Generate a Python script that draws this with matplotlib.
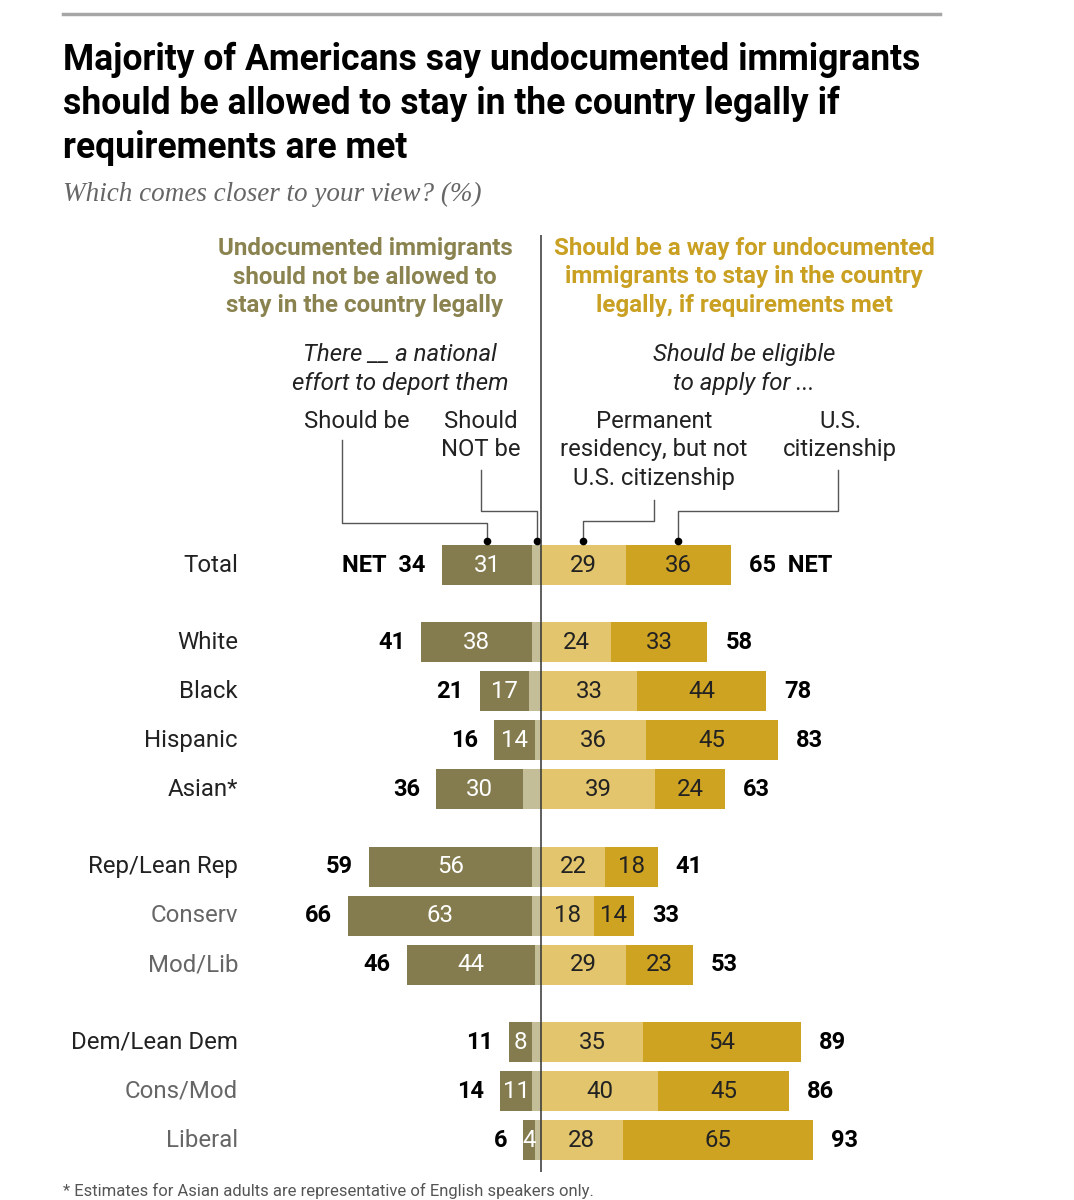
import matplotlib
matplotlib.use("Agg")
import matplotlib.pyplot as plt
import numpy as np

# survey data (%)
groups = ["Total", "White", "Black", "Hispanic", "Asian*",
          "Rep/Lean Rep", "Conserv", "Mod/Lib",
          "Dem/Lean Dem", "Cons/Mod", "Liberal"]
sub_rows = ["Conserv", "Mod/Lib", "Cons/Mod", "Liberal"]
group_breaks = [1, 5, 8]  # rows where a new block begins

deport_should = [31, 38, 17, 14, 30, 56, 63, 44, 8, 11, 4]
net_not_allowed = [34, 41, 21, 16, 36, 59, 66, 46, 11, 14, 6]
permanent_res = [29, 24, 33, 36, 39, 22, 18, 29, 35, 40, 28]
citizenship = [36, 33, 44, 45, 24, 18, 14, 23, 54, 45, 65]
net_allowed = [65, 58, 78, 83, 63, 41, 33, 53, 89, 86, 93]

W, H = 1074, 1200
CX, SCALE = 541, 2.92    # centre line (px) and px per percentage point
Y0, ROW = 565, 49        # first row centre (px) and row pitch (px)
GAP = 0.58               # extra space between blocks, in rows

C_DARK_OLIVE = "#847c4e"
C_LIGHT_OLIVE = "#c3bd98"
C_LIGHT_GOLD = "#e2c56c"
C_GOLD = "#cfa322"
C_HEAD_LEFT = "#8a8350"
C_HEAD_RIGHT = "#c9a021"

BODY = ["Roboto", "DejaVu Sans"]


def dx(px):
    return (px - CX) / SCALE


def dy(py):
    return (py - Y0) / ROW


not_be = np.array(net_not_allowed) - np.array(deport_should)
ypos = np.arange(len(groups), dtype=float)
for b in group_breaks:
    ypos[b:] += GAP

fig = plt.figure(figsize=(W / 100, H / 100), dpi=100)
ax = fig.add_axes([0, 0, 1, 1])
ax.set_xlim(dx(0), dx(W))
ax.set_ylim(dy(H), dy(0))
ax.axis("off")

bh = 40 / ROW
ax.barh(ypos, -not_be, height=bh, color=C_LIGHT_OLIVE)
ax.barh(ypos, -np.array(deport_should), left=-not_be, height=bh, color=C_DARK_OLIVE)
ax.barh(ypos, permanent_res, height=bh, color=C_LIGHT_GOLD)
ax.barh(ypos, citizenship, left=permanent_res, height=bh, color=C_GOLD)

ax.vlines(0, dy(235), dy(1172), color="#333333", lw=1.1, zorder=5)

for i, g in enumerate(groups):
    y = ypos[i]
    col = "#666666" if g in sub_rows else "#222222"
    ax.text(dx(238), y, g, ha="right", va="center", fontsize=17.3,
            color=col, family=BODY)
    ax.text(-(not_be[i] + deport_should[i] / 2), y, str(deport_should[i]),
            ha="center", va="center", fontsize=17.3, color="white", family=BODY)
    ax.text(permanent_res[i] / 2, y, str(permanent_res[i]),
            ha="center", va="center", fontsize=17.3, color="#222222", family=BODY)
    ax.text(permanent_res[i] + citizenship[i] / 2, y, str(citizenship[i]),
            ha="center", va="center", fontsize=17.3, color="#222222", family=BODY)
    left_lab = str(net_not_allowed[i])
    right_lab = str(net_allowed[i])
    if i == 0:
        left_lab = "NET  " + left_lab
        right_lab = right_lab + "  NET"
    ax.text(-net_not_allowed[i] - 16 / SCALE, y, left_lab, ha="right",
            va="center", fontsize=17, fontweight="bold", color="black",
            family=BODY)
    ax.text(permanent_res[i] + citizenship[i] + 18 / SCALE, y, right_lab,
            ha="left", va="center", fontsize=17, fontweight="bold",
            color="black", family=BODY)

# top rule, title, subtitle
ax.plot([dx(63), dx(940)], [dy(14), dy(14)], color="#a6a6a6", lw=2.5)
title = ("Majority of Americans say undocumented immigrants\n"
         "should be allowed to stay in the country legally if\n"
         "requirements are met")
ax.text(dx(63), dy(42), title, ha="left", va="top", fontsize=25.6,
        fontweight="bold", family=BODY, linespacing=1.27, color="black")
ax.text(dx(63), dy(194), "Which comes closer to your view? (%)", ha="left",
        va="center", fontsize=19.5, style="italic", color="#666666",
        family=["Liberation Serif", "DejaVu Serif"])

# column headers
ax.text(dx(365), dy(277), "Undocumented immigrants\nshould not be allowed to\n"
        "stay in the country legally", ha="center", va="center",
        fontsize=17.4, fontweight="bold", color=C_HEAD_LEFT, family=BODY,
        linespacing=1.3)
ax.text(dx(744), dy(277), "Should be a way for undocumented\nimmigrants to stay "
        "in the country\nlegally, if requirements met", ha="center",
        va="center", fontsize=17.4, fontweight="bold", color=C_HEAD_RIGHT,
        family=BODY, linespacing=1.3)
ax.text(dx(400), dy(369), "There __ a national\neffort to deport them",
        ha="center", va="center", fontsize=17.3, style="italic",
        color="#222222", family=BODY, linespacing=1.3)
ax.text(dx(744), dy(369), "Should be eligible\nto apply for ...",
        ha="center", va="center", fontsize=17.3, style="italic",
        color="#222222", family=BODY, linespacing=1.3)

sub_kw = dict(ha="center", va="top", fontsize=17.2, color="#222222",
              family=BODY, linespacing=1.3)
ax.text(dx(357), dy(410), "Should be", **sub_kw)
ax.text(dx(481), dy(410), "Should\nNOT be", **sub_kw)
ax.text(dx(654), dy(410), "Permanent\nresidency, but not\nU.S. citizenship", **sub_kw)
ax.text(dx(840), dy(410), "U.S.\ncitizenship", **sub_kw)

# leader lines to the Total bar
dot_y = dy(541)
targets = [
    (-(not_be[0] + deport_should[0] / 2), dx(342), dy(440), dy(523)),
    (-not_be[0] / 2, dx(481), dy(470), dy(511)),
    (permanent_res[0] / 2, dx(654), dy(500), dy(521)),
    (permanent_res[0] + citizenship[0] / 2, dx(838), dy(470), dy(511)),
]
for tx, lx, ytop, ybend in targets:
    ax.plot([lx, lx, tx, tx], [ytop, ybend, ybend, dot_y],
            color="#555555", lw=1.0)
    ax.plot(tx, dot_y, "o", color="black", ms=4.5)

ax.text(dx(63), dy(1199), "* Estimates for Asian adults are representative of "
        "English speakers only.", ha="left", va="bottom", fontsize=12,
        color="#555555", family=BODY)

fig.savefig("out.png", dpi=100)
